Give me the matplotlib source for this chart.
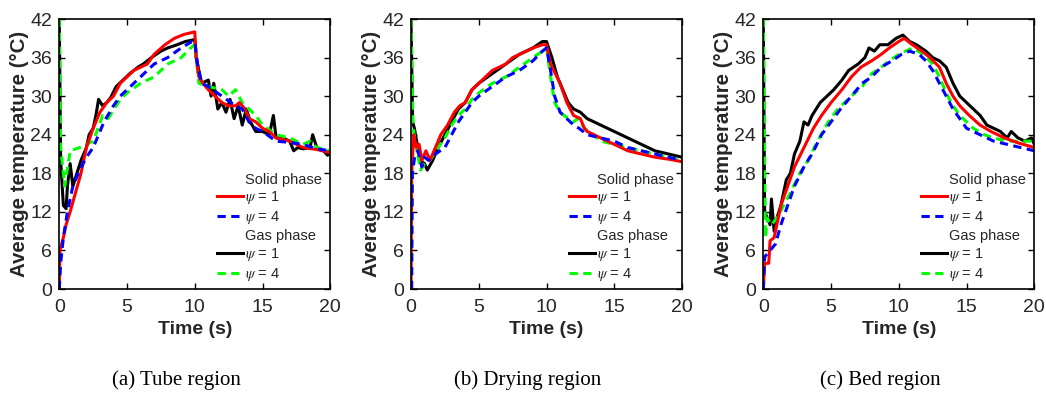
import matplotlib.pyplot as plt
from matplotlib.lines import Line2D

plt.rcParams['font.family'] = ['Liberation Sans', 'DejaVu Sans']
plt.rcParams['mathtext.fontset'] = 'stix'

# ---------------- data ----------------
# (a) Tube region
tube_s1_t = [0, 0.05, 0.3, 0.5, 0.8, 1.2, 1.6, 2.0, 2.5, 3.0, 3.5, 4.0, 4.5, 5.0, 5.5, 6.5, 7.0, 7.8, 8.5, 9.2, 10.0,
             10.1, 10.3, 10.6, 11.0, 11.5, 12.0, 12.5, 13.0, 13.3, 13.7, 14.0, 14.5, 15.0, 15.5, 16.0, 17.0, 18.0, 19.0, 20.0]
tube_s1_T = [0, 6, 8, 10, 12, 15, 18, 22, 25, 27.5, 29, 30, 32, 33, 34, 35, 36.5, 38, 39, 39.6, 40,
             36, 33, 32, 31, 30, 29, 28.5, 28.5, 29, 28, 26.5, 26, 25, 24.5, 23.5, 23, 22, 21.7, 21.2]
tube_s4_t = [0, 0.1, 0.3, 0.6, 1.0, 1.5, 2.0, 2.5, 3.0, 3.3, 4.0, 4.5, 5.0, 6.0, 7.0, 8.0, 9.0, 9.8, 10.0,
             10.2, 10.5, 11.0, 12.0, 13.0, 13.5, 14.0, 14.5, 15.0, 16.0, 17.0, 18.0, 19.0, 20.0]
tube_s4_T = [0, 4, 8, 12, 16, 18.5, 20.5, 22, 24.5, 26, 28.5, 30, 31, 33, 35, 36, 37.5, 38.5, 38.5,
             35, 32, 31.5, 30, 28.5, 28, 26, 25, 24.5, 23, 22.8, 22.5, 21.8, 21.5]
tube_g1_t = [0, 0.1, 0.3, 0.5, 0.6, 0.8, 1.0, 1.3, 1.6, 2.0, 2.2, 2.5, 2.7, 2.9, 3.2, 3.5, 3.8, 4.2, 4.7, 5.2, 5.8,
             6.2, 6.8, 7.5, 8.0, 8.7, 9.3, 10.0, 10.1, 10.5, 11.0, 11.2, 11.4, 11.7, 12.0, 12.3, 12.6, 12.9, 13.2,
             13.5, 13.8, 14.1, 14.5, 15.0, 15.5, 15.8, 16.0, 16.5, 17.0, 17.3, 17.6, 18.0, 18.5, 18.7, 19.0, 19.5,
             19.8, 20.0]
tube_g1_T = [42, 20, 13, 12.5, 16, 19.5, 16, 18, 20, 22, 24, 25, 27, 29.5, 28.5, 29, 29.8, 31.5, 32.5, 33.5, 34.5,
             35, 36, 37, 37.5, 38, 38.5, 38.8, 36, 32, 32.5, 30, 32, 28, 29, 27.5, 29.5, 26.5, 28.5,
             25.5, 28, 26, 24.5, 24.5, 24, 27, 23.5, 23.5, 23, 21.5, 22, 21.8, 22, 24, 22, 21.5,
             20.8, 21.3]
tube_g4_t = [0, 0.1, 0.4, 0.8, 1.5, 2.5, 3.2, 3.6, 4.5, 5.0, 6.0, 7.0, 8.0, 9.0, 9.7, 10.0, 10.3, 11.0, 12.0,
             12.5, 13.0, 13.5, 14.5, 15.0, 16.0, 17.0, 18.0, 18.5, 19.0, 20.0]
tube_g4_T = [42, 22, 16, 21.5, 22, 23, 27, 26.5, 29.5, 30.5, 32, 33, 35, 36, 37.5, 38, 32, 31.5, 31,
             30, 31, 29, 27, 25.5, 24, 23.5, 22.5, 23, 22, 21.5]

# (b) Drying region
dry_s1_t = [0, 0.05, 0.2, 0.4, 0.6, 0.8, 1.1, 1.4, 1.8, 2.2, 2.7, 3.2, 3.6, 4.0, 4.5, 5.0, 5.5, 6.0, 7.0, 7.5, 8.5,
            9.0, 9.7, 10.0, 10.3, 11.0, 11.5, 12.0, 12.5, 12.8, 13.0, 13.5, 14.0, 15.0, 16.0, 17.0, 18.0, 19.0, 20.0]
dry_s1_T = [0, 18, 24, 22, 22.5, 20, 21.5, 20, 22, 24, 25.5, 27.5, 28.5, 29, 31, 32, 33, 34, 35, 36, 37,
            37.5, 38, 38, 35, 32, 29, 27, 26.5, 25, 24.5, 24, 23.5, 22.5, 21.5, 21, 20.5, 20.2, 19.8]
dry_s4_t = [0.05, 0.1, 0.3, 0.5, 0.8, 1.0, 1.3, 1.8, 2.5, 3.0, 3.5, 4.0, 4.5, 5.0, 6.0, 7.0, 8.0, 9.0, 9.7, 10.0,
            10.3, 10.6, 11.0, 11.5, 12.0, 12.4, 13.0, 14.0, 15.0, 16.0, 17.0, 18.0, 19.0, 20.0]
dry_s4_T = [0, 18, 21, 21.5, 19, 20.5, 20, 21, 22, 24, 26, 27.5, 29, 30, 31.5, 33, 34, 35.5, 37, 37.5,
            34, 30, 27.5, 26.5, 25.5, 25, 24, 23.5, 23, 22, 21.5, 21, 20.5, 20]
dry_g1_t = [0, 0.12, 0.25, 0.5, 0.7, 1.0, 1.2, 1.6, 2.0, 2.5, 3.0, 3.5, 4.0, 4.5, 5.0, 6.0, 7.0, 8.0, 9.0, 9.7, 10.0,
            10.4, 10.8, 11.2, 11.6, 12.0, 12.5, 13.0, 13.5, 14.0, 15.0, 16.0, 17.0, 18.0, 19.0, 20.0]
dry_g1_T = [42, 26, 25, 22, 20, 19.5, 18.5, 20, 22, 24, 26, 28, 29, 31, 32, 33.5, 35, 36.5, 37.5, 38.5, 38.5,
            36, 33, 31, 29, 28, 27.5, 26.5, 26, 25.5, 24.5, 23.5, 22.5, 21.5, 21, 20.5]
dry_g4_t = [0, 0.15, 0.4, 0.7, 1.0, 1.4, 2.0, 2.5, 3.0, 3.5, 4.0, 4.5, 5.0, 6.0, 7.0, 8.0, 9.0, 9.7, 10.0,
            10.3, 10.6, 11.0, 11.6, 12.0, 12.3, 12.8, 13.5, 14.0, 15.0, 16.0, 17.0, 18.0, 19.0, 20.0]
dry_g4_T = [42, 25, 22, 18.5, 19.5, 20, 22, 23.5, 25.5, 27, 28, 29.5, 30.5, 32, 33, 34.5, 36, 37, 37.5,
            33, 29, 27.5, 26.5, 26, 26.5, 25, 24, 23, 22.5, 22, 21.5, 21, 20.5, 20]

# (c) Bed region
bed_s1_t = [0, 0.1, 0.4, 0.5, 0.8, 1.0, 1.3, 1.8, 2.3, 3.0, 3.7, 4.3, 5.0, 5.8, 6.5, 7.2, 8.0, 8.7, 9.3, 10.0, 10.4,
            11.0, 11.7, 12.3, 13.0, 13.5, 14.0, 14.5, 15.2, 16.0, 16.8, 17.8, 18.7, 20.0]
bed_s1_T = [0, 4, 4, 7.5, 8, 10, 13, 16, 19, 22, 25, 27, 29, 31, 33, 34.5, 35.5, 36.5, 37.5, 38.5, 39,
            38, 37, 36, 34.5, 32, 30, 28.5, 27, 25.5, 24.5, 23.5, 22.8, 22]
bed_s4_t = [0, 0.1, 0.5, 0.9, 1.3, 1.8, 2.3, 3.0, 3.6, 4.3, 5.0, 5.7, 6.5, 7.3, 8.0, 8.7, 9.5, 10.2, 10.8, 11.5,
            12.0, 12.5, 13.0, 13.5, 14.0, 14.5, 15.0, 16.0, 17.0, 18.0, 19.0, 20.0]
bed_s4_T = [0, 5, 6, 7, 10, 13, 16, 19, 21, 24, 26, 28, 30, 32, 33, 34.5, 35.5, 36.5, 37, 36.5,
            35.5, 34, 32, 30, 28, 26.5, 25, 24, 23, 22.5, 22, 21.5]
bed_g1_t = [0, 0.1, 0.3, 0.5, 0.6, 0.8, 1.0, 1.3, 1.7, 2.0, 2.3, 2.7, 3.0, 3.3, 3.6, 4.2, 4.7, 5.2, 5.8, 6.3, 7.0,
            7.5, 7.8, 8.2, 8.6, 9.2, 9.8, 10.3, 10.8, 11.3, 12.0, 12.5, 13.0, 13.5, 14.0, 14.5, 15.0, 15.5, 16.0,
            16.5, 17.0, 17.5, 18.0, 18.3, 18.8, 19.3, 19.8, 20.0]
bed_g1_T = [42, 12, 11, 10, 14, 9, 11, 13, 17, 18, 21, 23, 26, 25.5, 27, 29, 30, 31, 32.5, 34, 35,
            36, 37.5, 37, 38, 38, 39, 39.5, 38.5, 38, 37, 36, 35.5, 34.5, 32, 30, 29, 28, 27,
            25.5, 25, 24.5, 23.5, 24.5, 23.5, 23, 23.5, 22.5]
bed_g4_t = [0, 0.15, 0.3, 0.6, 1.0, 1.5, 2.0, 2.7, 3.3, 4.0, 4.8, 5.5, 6.5, 7.3, 8.0, 8.7, 9.3, 10.0, 10.5, 11.0,
            11.8, 12.5, 13.0, 13.5, 14.0, 14.5, 15.0, 15.5, 16.3, 17.0, 18.0, 19.0, 20.0]
bed_g4_T = [42, 8, 11, 10, 11, 13, 15, 18, 20, 23, 26, 28, 30, 31.5, 33.5, 34.5, 35.5, 36.5, 37, 37.5,
            36.5, 35, 33, 30.5, 28.5, 27, 26, 25, 24, 23.5, 23, 23, 23]

panels = [
    ("(a) Tube region", (tube_s1_t, tube_s1_T), (tube_s4_t, tube_s4_T), (tube_g1_t, tube_g1_T), (tube_g4_t, tube_g4_T)),
    ("(b) Drying region", (dry_s1_t, dry_s1_T), (dry_s4_t, dry_s4_T), (dry_g1_t, dry_g1_T), (dry_g4_t, dry_g4_T)),
    ("(c) Bed region", (bed_s1_t, bed_s1_T), (bed_s4_t, bed_s4_T), (bed_g1_t, bed_g1_T), (bed_g4_t, bed_g4_T)),
]
y_ticks = [0, 6, 12, 18, 24, 30, 36, 42]
x_ticks = [0, 5, 10, 15, 20]

# ---------------- figure ----------------
W, H = 1046, 393
fig = plt.figure(figsize=(W / 100, H / 100), dpi=100)
lefts = [59.3, 411.0, 763.3]
caption_x = [176, 528, 880]
LW = 2.2
DASH = (2.7, 1.8)
TXT = "#262626"

for i, (caption, s1, s4, g1, g4) in enumerate(panels):
    ax = fig.add_axes([lefts[i] / W, (H - 289) / H, 271 / W, 270 / H])

    # gas first, solid on top
    ax.plot(g1[0], g1[1], color="black", lw=LW)
    ax.plot(g4[0], g4[1], color="#00ff00", lw=LW, dashes=DASH)
    ax.plot(s1[0], s1[1], color="red", lw=LW)
    ax.plot(s4[0], s4[1], color="blue", lw=LW, dashes=DASH)

    ax.set_xlim(0, 20)
    ax.set_ylim(0, 42)
    ax.set_xticks(x_ticks)
    ax.set_yticks(y_ticks)
    ax.tick_params(direction="in", top=True, right=True, length=4, width=1,
                   labelsize=14, labelcolor=TXT, pad=5)
    ax.tick_params(axis="x", pad=7)
    for sp in ax.spines.values():
        sp.set_linewidth(1.2)

    ax.set_xlabel("Time (s)", fontsize=14, fontweight="bold", color=TXT, labelpad=4)
    ax.set_ylabel("Average temperature (°C)", fontsize=14.8, fontweight="bold", color=TXT, labelpad=1)

    blank = Line2D([], [], color="none")
    handles = [blank,
               Line2D([], [], color="red", lw=LW),
               Line2D([], [], color="blue", lw=LW, dashes=DASH),
               blank,
               Line2D([], [], color="black", lw=LW),
               Line2D([], [], color="#00ff00", lw=LW, dashes=DASH)]
    labels = ["Solid phase", r"$\psi$ = 1", r"$\psi$ = 4", "Gas phase", r"$\psi$ = 1", r"$\psi$ = 4"]
    leg = ax.legend(handles, labels, loc="lower right", frameon=False, fontsize=10.5,
                    handlelength=1.8, handletextpad=0.1, labelspacing=0.2, borderaxespad=0.0,
                    bbox_to_anchor=(0.99, 0.0))
    for t in leg.get_texts():
        t.set_color(TXT)

    fig.text(caption_x[i] / W, 1 - 380 / H, caption, ha="center", va="center",
             fontsize=15, family=["Liberation Serif", "DejaVu Serif"])

fig.savefig("out.png", dpi=100)
